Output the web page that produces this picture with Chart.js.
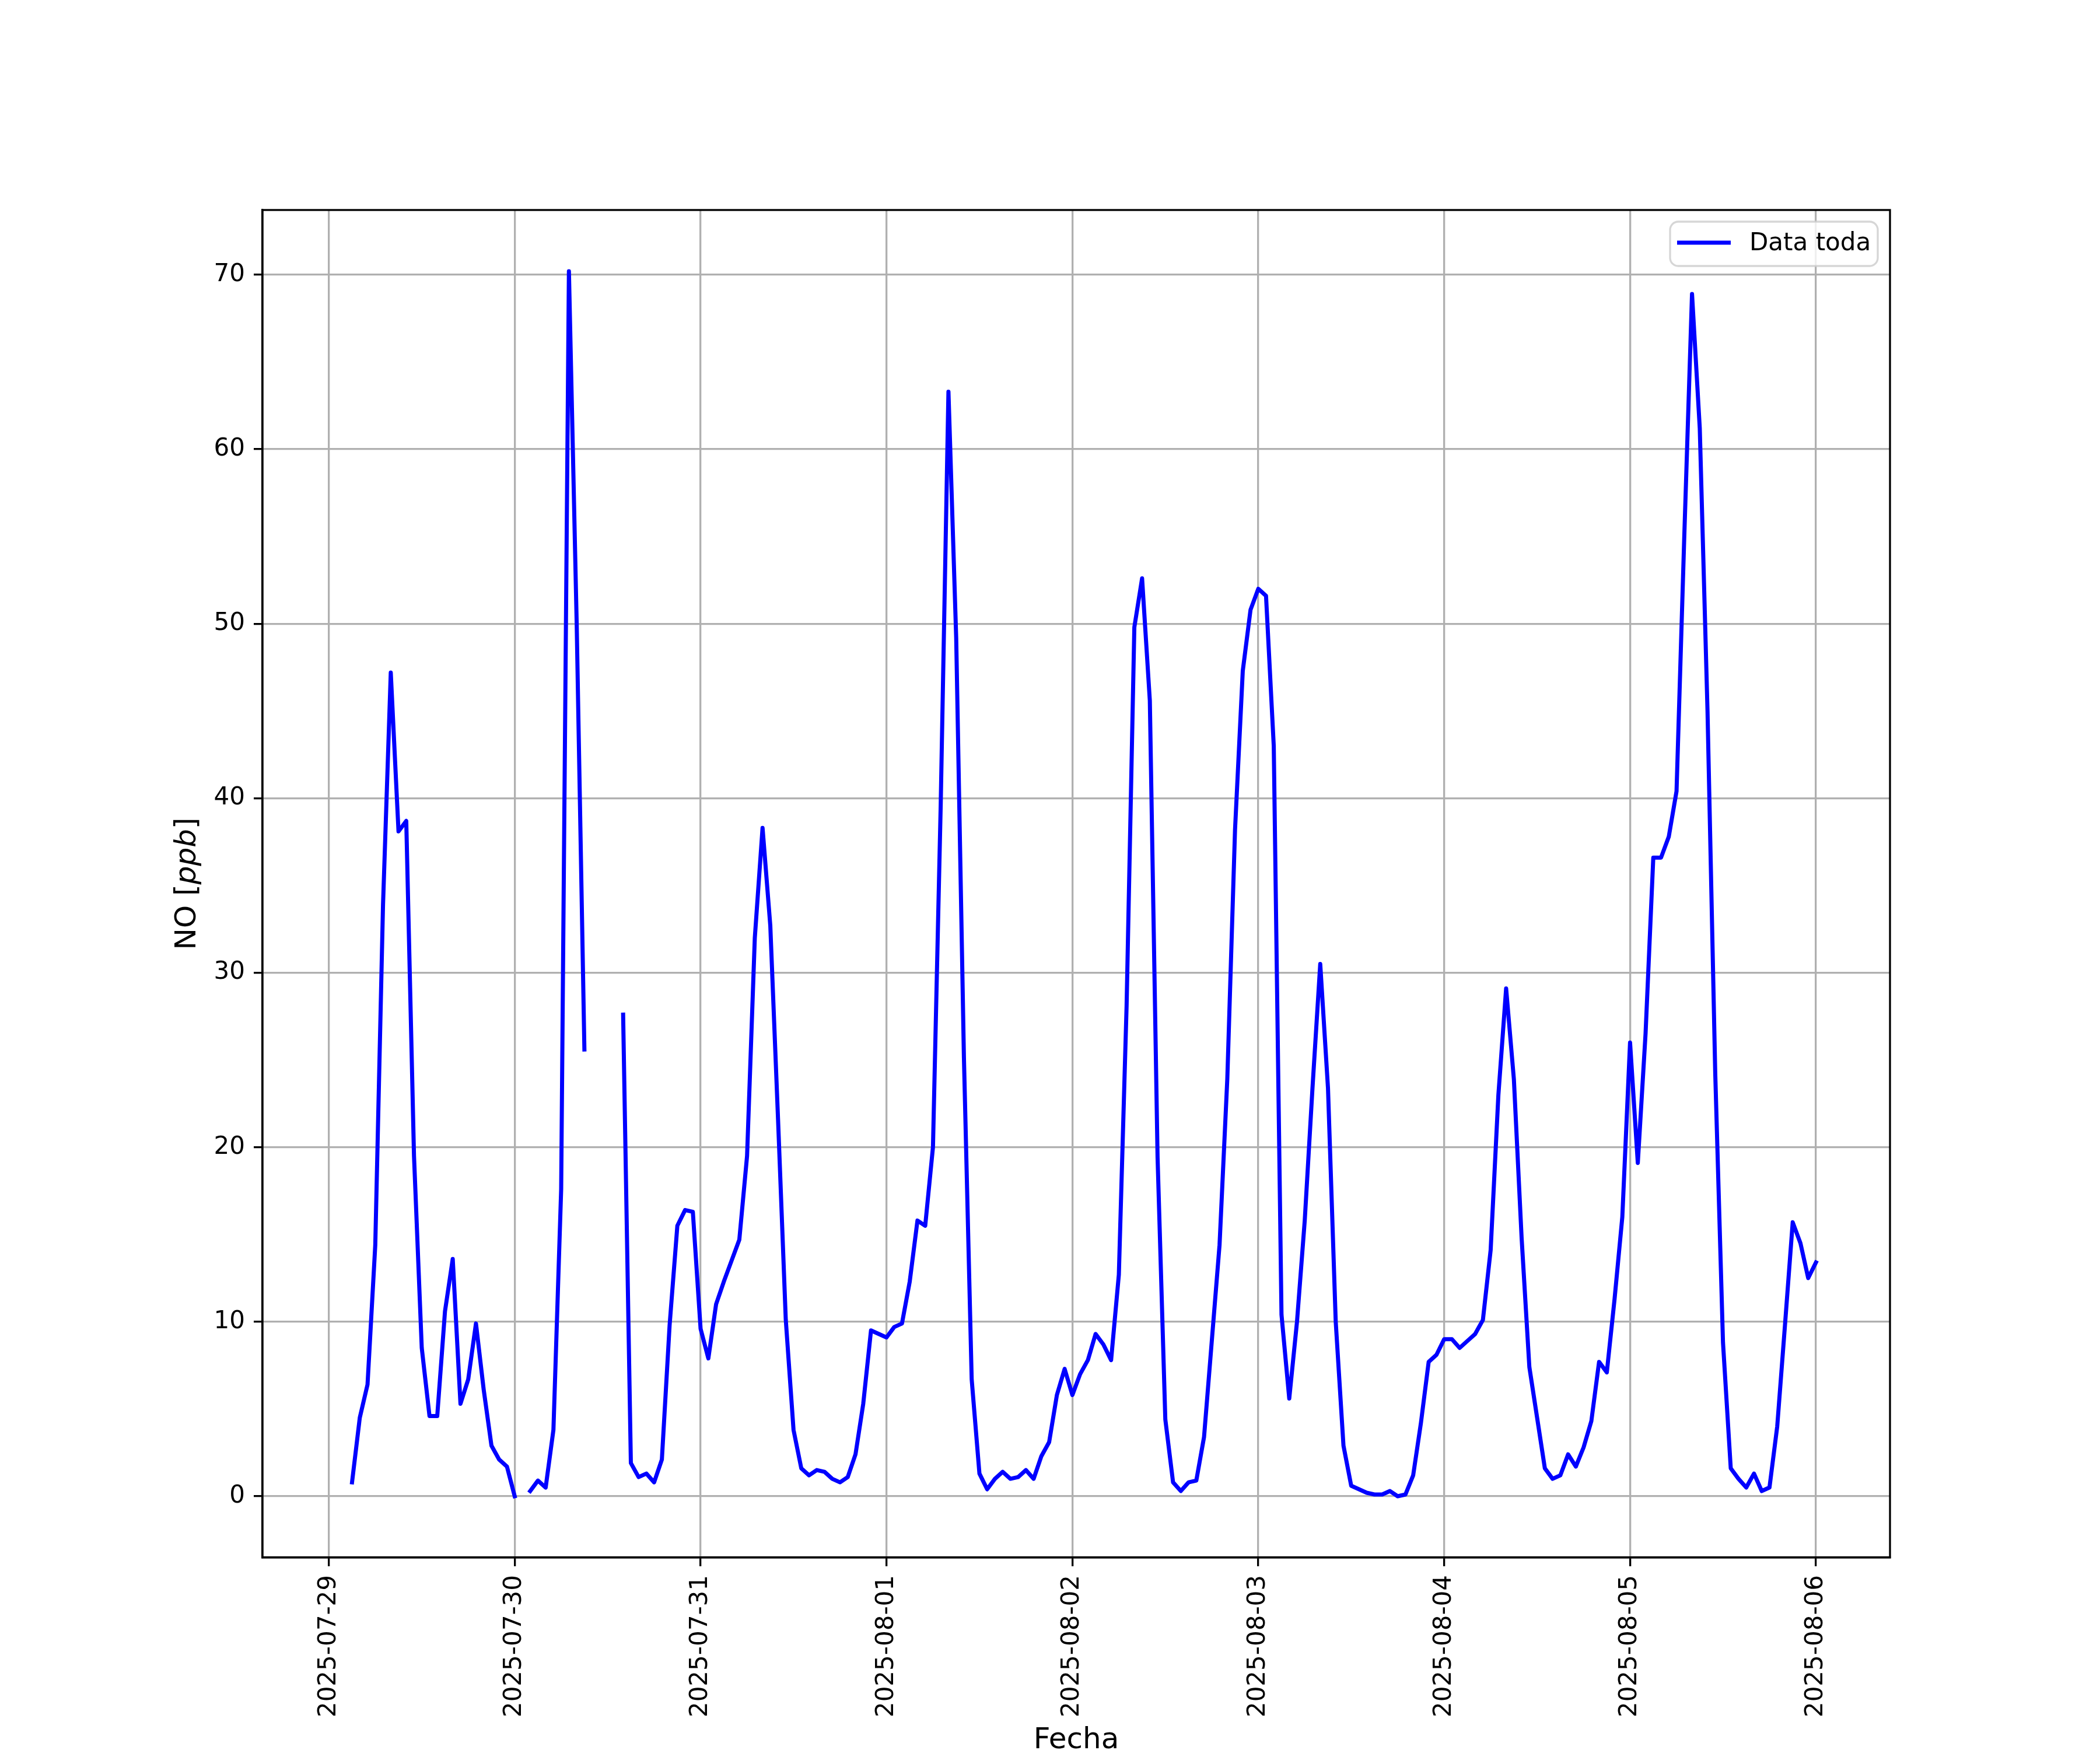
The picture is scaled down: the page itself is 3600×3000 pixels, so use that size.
<!DOCTYPE html>
<html>
<head>
<meta charset="utf-8">
<title>NO [ppb]</title>
<script src="https://cdn.jsdelivr.net/npm/chart.js@4.4.1/dist/chart.umd.min.js"></script>
<style>
  html, body { margin: 0; padding: 0; background: #fff; }
  canvas { display: block; }
</style>
</head>
<body>
<canvas id="grafico" width="3600" height="3000"></canvas>
<script>
// fechas del eje x (una marca por día, 00:00)
const fechas = ['2025-07-29', '2025-07-30', '2025-07-31', '2025-08-01', '2025-08-02',
                '2025-08-03', '2025-08-04', '2025-08-05', '2025-08-06'];

// NO horario (ppb), posiciones 0..23 = 00h..23h; null = sin dato
const no_0729 = [null, null, null, 0.8, 4.5, 6.4, 14.4, 33.9, 47.2, 38.1, 38.7, 19.5,
                 8.5, 4.6, 4.6, 10.6, 13.6, 5.3, 6.7, 9.9, 6.1, 2.9, 2.1, 1.7];
const no_0730 = [0.0, null, 0.3, 0.9, 0.5, 3.8, 17.6, 70.2, 50.1, 25.6, null, null,
                 null, null, 27.6, 1.9, 1.1, 1.3, 0.8, 2.1, 9.8, 15.5, 16.4, 16.3];
const no_0731 = [9.6, 7.9, 11.0, 12.3, 13.5, 14.7, 19.5, 32.0, 38.3, 32.7, 21.6, 10.1,
                 3.8, 1.6, 1.2, 1.5, 1.4, 1.0, 0.8, 1.1, 2.4, 5.3, 9.5, 9.3];
const no_0801 = [9.1, 9.7, 9.9, 12.3, 15.8, 15.5, 20.0, 39.6, 63.3, 49.2, 25.1, 6.7,
                 1.3, 0.4, 1.0, 1.4, 1.0, 1.1, 1.5, 1.0, 2.3, 3.1, 5.8, 7.3];
const no_0802 = [5.8, 7.0, 7.8, 9.3, 8.7, 7.8, 12.7, 28.1, 49.8, 52.6, 45.6, 19.4,
                 4.4, 0.8, 0.3, 0.8, 0.9, 3.4, 8.9, 14.4, 23.9, 38.2, 47.3, 50.8];
const no_0803 = [52.0, 51.6, 43.0, 10.4, 5.6, 10.0, 15.8, 23.4, 30.5, 23.4, 10.0, 2.9,
                 0.6, 0.4, 0.2, 0.1, 0.1, 0.3, 0.0, 0.1, 1.2, 4.2, 7.7, 8.1];
const no_0804 = [9.0, 9.0, 8.5, 8.9, 9.3, 10.1, 14.1, 23.0, 29.1, 23.9, 14.8, 7.4,
                 4.5, 1.6, 1.0, 1.2, 2.4, 1.7, 2.8, 4.3, 7.7, 7.1, 11.3, 16.0];
const no_0805 = [26.0, 19.1, 26.5, 36.6, 36.6, 37.8, 40.4, 55.0, 68.9, 61.2, 45.0, 24.2,
                 8.8, 1.6, 1.0, 0.5, 1.3, 0.3, 0.5, 4.0, 9.8, 15.7, 14.5, 12.5];
const no_0806 = [13.4];

// marcas del eje y
const ticksY = [0, 10, 20, 30, 40, 50, 60, 70];

// armado de puntos: x en horas desde 2025-07-29 00:00
const dias = [no_0729, no_0730, no_0731, no_0801, no_0802, no_0803, no_0804, no_0805, no_0806];
const puntos = [];
dias.forEach((vals, d) => {
    vals.forEach((v, h) => puntos.push({ x: d * 24 + h, y: v }));
});

const FUENTE = '"DejaVu Sans", "Liberation Sans", sans-serif';
const LW = 3.3;   // 0.8 pt a 300 dpi

// ejes extra: marco superior/derecho, etiqueta y, etiqueta x y leyenda
const decoracion = {
    id: 'decoracion',
    afterDraw(chart) {
        const ctx = chart.ctx;
        const a = chart.chartArea;
        ctx.save();

        // marco completo
        ctx.strokeStyle = '#000';
        ctx.lineWidth = LW;
        ctx.strokeRect(a.left, a.top, a.right - a.left, a.bottom - a.top);

        // etiqueta eje y: NO [ppb] con ppb en cursiva
        const partes = [
            { t: 'NO [', f: '50px ' + FUENTE },
            { t: 'ppb', f: 'italic 50px ' + FUENTE },
            { t: ']', f: '50px ' + FUENTE }
        ];
        let total = 0;
        partes.forEach(p => { ctx.font = p.f; p.w = ctx.measureText(p.t).width; total += p.w; });
        ctx.translate(322, (a.top + a.bottom) / 2);
        ctx.rotate(-Math.PI / 2);
        ctx.fillStyle = '#000';
        ctx.textBaseline = 'middle';
        ctx.textAlign = 'left';
        let xx = -total / 2;
        partes.forEach(p => { ctx.font = p.f; ctx.fillText(p.t, xx, 0); xx += p.w; });
        ctx.setTransform(1, 0, 0, 1, 0, 0);

        // etiqueta eje x
        ctx.font = '50px ' + FUENTE;
        ctx.textAlign = 'center';
        ctx.textBaseline = 'middle';
        ctx.fillText('Fecha', (a.left + a.right) / 2, 2984);

        // leyenda
        const lx = 2863, ly = 380, lw = 356, lh = 76, r = 14;
        ctx.beginPath();
        ctx.moveTo(lx + r, ly);
        ctx.arcTo(lx + lw, ly, lx + lw, ly + lh, r);
        ctx.arcTo(lx + lw, ly + lh, lx, ly + lh, r);
        ctx.arcTo(lx, ly + lh, lx, ly, r);
        ctx.arcTo(lx, ly, lx + lw, ly, r);
        ctx.closePath();
        ctx.fillStyle = 'rgba(255,255,255,0.8)';
        ctx.fill();
        ctx.strokeStyle = 'rgba(204,204,204,0.8)';
        ctx.lineWidth = LW;
        ctx.stroke();

        ctx.beginPath();
        ctx.moveTo(2875, 416);
        ctx.lineTo(2967, 416);
        ctx.strokeStyle = '#0000ff';
        ctx.lineWidth = 7;
        ctx.lineCap = 'butt';
        ctx.stroke();

        ctx.fillStyle = '#000';
        ctx.font = '42px ' + FUENTE;
        ctx.textAlign = 'left';
        ctx.textBaseline = 'middle';
        ctx.fillText('Data toda', 2999, 418);

        ctx.restore();
    }
};

new Chart(document.getElementById('grafico').getContext('2d'), {
    type: 'line',
    data: {
        datasets: [{
            label: 'Data toda',
            data: puntos,
            borderColor: '#0000ff',
            backgroundColor: '#0000ff',
            borderWidth: 7,
            borderCapStyle: 'square',
            borderJoinStyle: 'round',
            pointRadius: 0,
            tension: 0,
            spanGaps: false,
            fill: false
        }]
    },
    options: {
        responsive: false,
        devicePixelRatio: 1,
        animation: false,
        layout: { padding: { left: 0, right: 360, top: 360, bottom: 0 } },
        plugins: {
            legend: { display: false },
            tooltip: { enabled: false }
        },
        scales: {
            x: {
                type: 'linear',
                min: -8.56,
                max: 201.56,
                afterBuildTicks: s => { s.ticks = fechas.map((f, i) => ({ value: i * 24 })); },
                afterFit: s => { s.height = 330; },
                ticks: {
                    autoSkip: false,
                    minRotation: 90,
                    maxRotation: 90,
                    padding: 15,
                    color: '#000',
                    font: { family: FUENTE, size: 42 },
                    callback: (v) => fechas[Math.round(v / 24)]
                },
                grid: {
                    color: '#b0b0b0',
                    lineWidth: LW,
                    tickColor: '#000',
                    tickWidth: LW,
                    tickLength: 15
                },
                border: { color: '#000', width: LW }
            },
            y: {
                type: 'linear',
                min: -3.51,
                max: 73.71,
                afterBuildTicks: s => { s.ticks = ticksY.map(v => ({ value: v })); },
                afterFit: s => { s.width = 450; },
                ticks: {
                    padding: 15,
                    color: '#000',
                    font: { family: FUENTE, size: 42 },
                    callback: v => String(v)
                },
                grid: {
                    color: '#b0b0b0',
                    lineWidth: LW,
                    tickColor: '#000',
                    tickWidth: LW,
                    tickLength: 15
                },
                border: { color: '#000', width: LW }
            }
        }
    },
    plugins: [decoracion]
});
</script>
</body>
</html>
